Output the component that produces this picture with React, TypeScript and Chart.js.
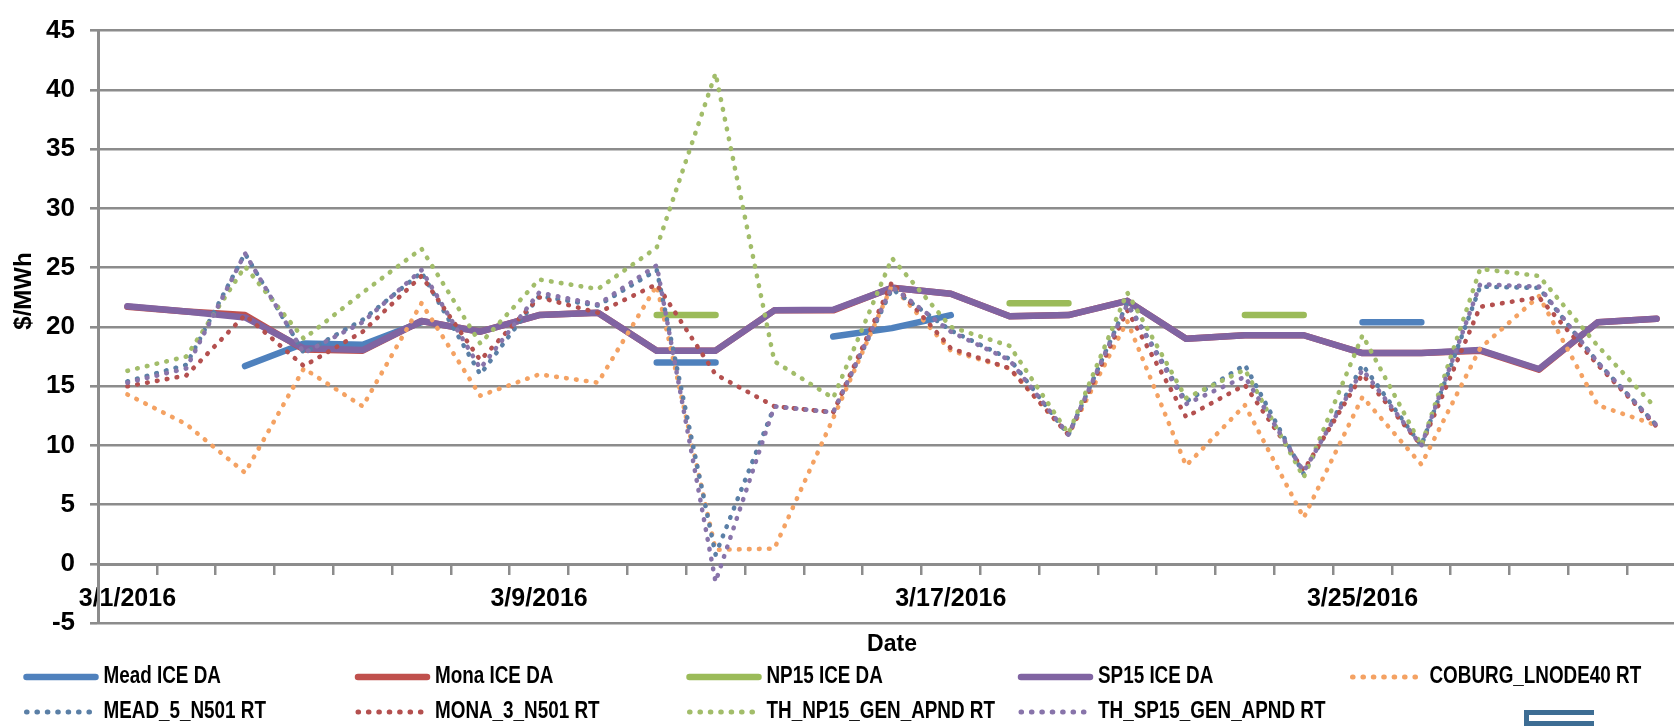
import React, { useEffect, useRef } from 'react';
import { Chart, registerables } from 'chart.js';

Chart.register(...registerables);

// Trading days of March 2016 (no Sunday quotes)
const tradeDates = [
  '3/1/2016', '3/2/2016', '3/3/2016', '3/4/2016', '3/5/2016', '3/7/2016', '3/8/2016',
  '3/9/2016', '3/10/2016', '3/11/2016', '3/12/2016', '3/14/2016', '3/15/2016', '3/16/2016',
  '3/17/2016', '3/18/2016', '3/19/2016', '3/21/2016', '3/22/2016', '3/23/2016', '3/24/2016',
  '3/25/2016', '3/26/2016', '3/28/2016', '3/29/2016', '3/30/2016', '3/31/2016',
];

// Only every 7th trading day gets a date label
const labelStep = 7;

// Y axis ($/MWh)
const yMin = -5;
const yMax = 45;
const yStep = 5;

// Day-ahead ICE prices
const meadIceDa = [null, null, 16.7, 18.6, 18.5, 20.4, null, null, null, 17.0, 17.0, null, 19.2, 19.9, 21.0, null, null, null, null, null, null, 20.4, 20.4, null, null, null, null];
const monaIceDa = [21.7, 21.3, 21.0, 18.1, 18.0, 20.5, 19.6, 21.0, 21.2, 18.0, 18.0, 21.4, 21.4, 23.3, 22.8, 20.9, 21.0, 22.2, 19.0, 19.3, 19.3, 17.8, 17.8, 18.0, 16.4, 20.4, 20.7];
const np15IceDa = [null, null, null, null, null, null, null, null, null, 21.0, 21.0, null, null, null, null, 22.0, 22.0, null, null, 21.0, 21.0, null, null, null, null, null, null];
const sp15IceDa = [21.75, 21.3, 20.8, 18.2, 18.05, 20.5, 19.6, 21.0, 21.2, 18.0, 18.0, 21.4, 21.45, 23.3, 22.8, 20.9, 21.0, 22.2, 19.0, 19.3, 19.3, 17.8, 17.8, 18.05, 16.45, 20.4, 20.7];

// Real-time node prices
const coburgRt = [14.3, 11.8, 7.7, 16.5, 13.3, 22.0, 14.2, 16.0, 15.3, 23.5, 1.2, 1.3, 12.3, 23.5, 18.0, 16.5, 10.9, 20.5, 8.3, 13.4, 3.9, 14.1, 8.4, 18.2, 22.6, 13.4, 11.7];
const mead5Rt = [15.4, 16.8, 26.2, 17.8, 20.6, 24.6, 16.0, 22.6, 21.8, 24.8, 0.8, 13.3, 12.8, 23.2, 19.7, 17.3, 10.9, 22.0, 13.7, 16.8, 7.6, 16.8, 10.0, 23.4, 23.3, 17.0, 11.7];
const mona3Rt = [15.0, 15.9, 21.0, 16.7, 19.6, 24.3, 17.2, 22.5, 21.2, 23.6, 16.0, 13.3, 12.8, 23.8, 18.2, 16.5, 10.9, 21.4, 12.4, 15.1, 7.9, 16.0, 10.0, 21.7, 22.5, 16.8, 11.6];
const thNp15Rt = [16.3, 17.5, 25.1, 19.0, 22.9, 26.6, 18.6, 24.0, 23.2, 26.7, 41.4, 17.1, 14.0, 25.8, 20.0, 18.4, 11.0, 22.9, 14.0, 16.4, 7.3, 19.3, 10.0, 24.9, 24.3, 18.4, 13.1];
const thSp15Rt = [15.3, 16.5, 26.2, 17.8, 20.4, 24.8, 16.5, 22.9, 21.9, 25.2, -1.5, 13.3, 12.8, 23.4, 19.6, 17.2, 10.9, 21.9, 13.5, 15.8, 7.8, 16.4, 10.0, 23.6, 23.4, 17.0, 11.7];

const FONT = '"Liberation Sans", Arial, sans-serif';
const GRID = '#8c8c8c';

type Series = { label: string; data: (number | null)[]; color: string; dotted: boolean };

const series: Series[] = [
  { label: 'Mead ICE DA', data: meadIceDa, color: '#4f81bd', dotted: false },
  { label: 'Mona ICE DA', data: monaIceDa, color: '#c0504d', dotted: false },
  { label: 'NP15 ICE DA', data: np15IceDa, color: '#9bbb59', dotted: false },
  { label: 'SP15 ICE DA', data: sp15IceDa, color: '#8064a2', dotted: false },
  { label: 'COBURG_LNODE40 RT', data: coburgRt, color: '#f4a263', dotted: true },
  { label: 'MEAD_5_N501 RT', data: mead5Rt, color: '#5a7fa6', dotted: true },
  { label: 'MONA_3_N501 RT', data: mona3Rt, color: '#b4504f', dotted: true },
  { label: 'TH_NP15_GEN_APND RT', data: thNp15Rt, color: '#a2bd6a', dotted: true },
  { label: 'TH_SP15_GEN_APND RT', data: thSp15Rt, color: '#8874aa', dotted: true },
];

// round dots: tiny dash + round caps
const DOT_DASH = [0.6, 9.4];

// Axis titles and a five-column legend laid out under the plot
const legendGridPlugin = {
  id: 'legendGrid',
  afterDraw(chart: any) {
    const { ctx, chartArea } = chart;
    ctx.save();
    ctx.fillStyle = '#000';
    ctx.textBaseline = 'middle';

    ctx.save();
    ctx.font = `bold 24px ${FONT}`;
    ctx.textAlign = 'center';
    ctx.translate(24, 291);
    ctx.rotate(-Math.PI / 2);
    ctx.fillText('$/MWh', 0, 0);
    ctx.restore();

    ctx.font = `bold 23px ${FONT}`;
    ctx.textAlign = 'center';
    ctx.fillText('Date', (chartArea.left + chartArea.right) / 2, 645);

    const colX = 23.5;
    const colW = 331.5;
    const rowY = [677, 712];
    chart.data.datasets.forEach((ds: any, i: number) => {
      const col = i % 5;
      const row = Math.floor(i / 5);
      const x = colX + col * colW;
      const y = rowY[row];
      const dotted = ds.borderDash && ds.borderDash.length > 0;
      ctx.save();
      ctx.strokeStyle = ds.borderColor;
      ctx.lineWidth = dotted ? 5 : 6.5;
      ctx.lineCap = 'round';
      ctx.setLineDash(dotted ? [0.6, 9.8] : []);
      ctx.beginPath();
      ctx.moveTo(x + 3, y);
      ctx.lineTo(x + (dotted ? 70 : 72), y);
      ctx.stroke();
      ctx.restore();

      ctx.save();
      ctx.translate(x + 80, y);
      ctx.scale(0.82, 1);
      ctx.font = `bold 23px ${FONT}`;
      ctx.textAlign = 'left';
      ctx.fillText(ds.label, 0, 0);
      ctx.restore();
    });

    // data-table key at the lower right
    ctx.fillStyle = '#3d6d94';
    ctx.fillRect(1524, 710, 70, 5);
    ctx.fillRect(1524, 710, 5, 20);
    ctx.fillRect(1524, 721, 70, 5);
    ctx.restore();
  },
};

export default function App() {
  const canvasRef = useRef<HTMLCanvasElement | null>(null);

  useEffect(() => {
    if (!canvasRef.current) return;
    Chart.defaults.font.family = FONT;
    const chart = new Chart(canvasRef.current, {
      type: 'line',
      data: {
        labels: tradeDates,
        datasets: series.map((s, i) => ({
          label: s.label,
          data: s.data,
          borderColor: s.color,
          backgroundColor: s.color,
          borderWidth: s.dotted ? 4.6 : 6.5,
          borderDash: s.dotted ? DOT_DASH : [],
          borderCapStyle: 'round',
          borderJoinStyle: 'round',
          pointRadius: 0,
          pointHoverRadius: 0,
          tension: 0,
          spanGaps: false,
          fill: false,
          order: series.length - i,
        })),
      },
      options: {
        responsive: false,
        animation: false,
        events: [],
        layout: { padding: { top: 24, right: 2, bottom: 102.7, left: 0 } },
        plugins: {
          legend: { display: false },
          title: { display: false },
          tooltip: { enabled: false },
        },
        scales: {
          x: {
            type: 'category',
            position: { y: 0 },
            offset: true,
            grid: {
              display: true,
              drawOnChartArea: false,
              drawTicks: true,
              tickLength: 9,
              offset: true,
              color: GRID,
              lineWidth: 2.5,
            },
            border: { display: true, color: GRID, width: 3 },
            ticks: {
              autoSkip: false,
              maxRotation: 0,
              minRotation: 0,
              padding: 11,
              color: '#000',
              font: { family: FONT, size: 25, weight: 'bold' },
              callback: (_v: any, i: number) => (i % labelStep === 0 ? tradeDates[i] : ''),
            },
          },
          y: {
            min: yMin,
            max: yMax,
            afterFit: (scale: any) => {
              scale.width = 98;
            },
            ticks: {
              stepSize: yStep,
              padding: 15,
              color: '#000',
              font: { family: FONT, size: 26, weight: 'bold' },
            },
            grid: {
              color: GRID,
              lineWidth: 2.6,
              drawTicks: true,
              tickLength: 8,
            },
            border: { display: true, color: GRID, width: 3 },
          },
        },
      },
      plugins: [legendGridPlugin],
    } as any);
    return () => chart.destroy();
  }, []);

  return (
    <div
      style={{
        position: 'fixed',
        left: 0,
        top: 0,
        width: '100vw',
        height: '100vh',
        overflow: 'hidden',
        background: '#fff',
      }}
    >
      <canvas ref={canvasRef} width={1688} height={726} style={{ display: 'block', width: 1688, height: 726 }} />
    </div>
  );
}
